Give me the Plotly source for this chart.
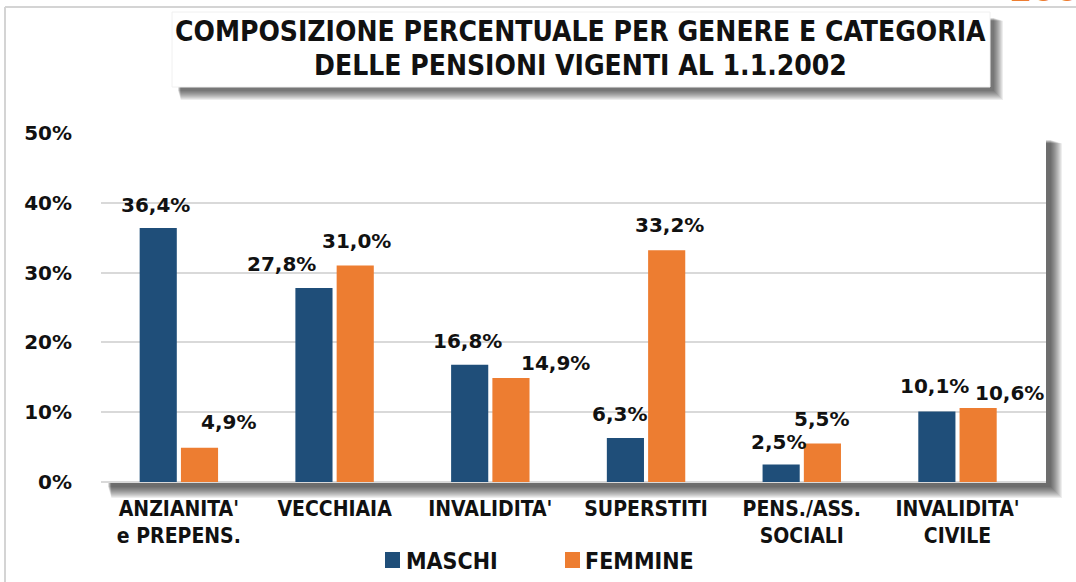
import plotly.graph_objects as go

# ---------------- data ----------------
categories = ["ANZIANITA'<br>e PREPENS.", "VECCHIAIA", "INVALIDITA'", "SUPERSTITI",
              "PENS./ASS.<br>SOCIALI", "INVALIDITA'<br>CIVILE"]
maschi = [36.4, 27.8, 16.8, 6.3, 2.5, 10.1]
femmine = [4.9, 31.0, 14.9, 33.2, 5.5, 10.6]
series_names = ["MASCHI", "FEMMINE"]
y_ticks = [0, 10, 20, 30, 40, 50]
y_tick_labels = ["0%", "10%", "20%", "30%", "40%", "50%"]
title_lines = ["COMPOSIZIONE PERCENTUALE PER GENERE E CATEGORIA", "DELLE PENSIONI VIGENTI AL 1.1.2002"]
corner_text = "100"

# ---------------- style ----------------
W, H = 1076, 582
L, R, T, B = 101, 1046, 133, 482
C_M = "#1f4e79"
C_F = "#ed7d31"
NARROW = "DejaVu Sans Condensed, Liberation Sans Narrow, Arial Narrow, sans-serif"
WIDE = "DejaVu Sans, Verdana, sans-serif"

# label pixel offsets (dx, gap above bar top)
m_off = [(0, 23), (-30, 24), (0, 24), (-4, 24), (0, 23), (0, 26)]
f_off = [(28, 26), (0, 25), (43, 15), (1, 25), (-2, 25), (30, 15)]

# manual legend placement (pixels): square left, text left
legend_pos = [(385, 404), (565, 583)]


def px(x):
    return (x - L) / (R - L)


def py(y):
    return (B - y) / (B - T)


fig = go.Figure()
fig.add_bar(name=series_names[0], x=categories, y=maschi, marker_color=C_M,
            marker_line_width=0, showlegend=False)
fig.add_bar(name=series_names[1], x=categories, y=femmine, marker_color=C_F,
            marker_line_width=0, showlegend=False)

shapes = []
# outer frame lines
shapes.append(dict(type="line", xref="paper", yref="paper", x0=px(5), x1=px(1080), y0=py(7), y1=py(7),
                   line=dict(color="#d4d4d4", width=2), layer="below"))
shapes.append(dict(type="line", xref="paper", yref="paper", x0=px(5), x1=px(5), y0=py(7), y1=py(590),
                   line=dict(color="#d4d4d4", width=2), layer="below"))


def shadow(x0, y0, x1, y1, off=6, n=12, alpha=0.055):
    out = []
    for k in range(n):
        out.append(dict(type="rect", xref="paper", yref="paper",
                        x0=px(x0 + off + k * 0.3), x1=px(x1 + off - 2 + k),
                        y0=py(y0 + off + k * 0.3), y1=py(y1 + off - 2 + k),
                        fillcolor=f"rgba(0,0,0,{alpha})", line_width=0, layer="below"))
    return out


# plot area shadow + white panel
shapes += shadow(L, T, R, B, off=7, n=12, alpha=0.065)
shapes.append(dict(type="rect", xref="paper", yref="paper", x0=px(L), x1=px(R), y0=py(T - 1), y1=py(B),
                   fillcolor="white", line_width=0, layer="below"))
# title box shadow + white box
shapes += shadow(172, 12, 990, 87, off=6, n=10, alpha=0.07)
shapes.append(dict(type="rect", xref="paper", yref="paper", x0=px(172), x1=px(990), y0=py(12), y1=py(87),
                   fillcolor="white", line=dict(color="#f0f0f0", width=1), layer="below"))

annotations = []
for i, t in enumerate(title_lines):
    annotations.append(dict(xref="paper", yref="paper", x=px(580), y=py(32 + i * 34), text=t,
                            showarrow=False, xanchor="center", yanchor="middle",
                            font=dict(family=NARROW, size=28, color="#111111", weight="bold")))

# partially visible orange text in the top-right corner (cut off in the reference too)
annotations.append(dict(xref="paper", yref="paper", x=px(1006), y=py(11), text=corner_text,
                        showarrow=False, xanchor="left", yanchor="bottom",
                        font=dict(family=WIDE, size=34, color=C_F, weight="bold")))


def lab(v):
    return f"{v:.1f}%".replace(".", ",")


for j, (vals, offs) in enumerate([(maschi, m_off), (femmine, f_off)]):
    for i, v in enumerate(vals):
        dx, gap = offs[i]
        annotations.append(dict(x=categories[i], y=v, xref="x", yref="y", text=lab(v), showarrow=False,
                                xanchor="center", yanchor="middle",
                                xshift=(-23 if j == 0 else 22) + dx, yshift=gap,
                                font=dict(family=WIDE, size=20, color="#111111", weight="bold")))

# manual legend
for (sx, tx), name, col in zip(legend_pos, series_names, [C_M, C_F]):
    shapes.append(dict(type="rect", xref="paper", yref="paper", x0=px(sx), x1=px(sx + 15),
                       y0=py(552), y1=py(568), fillcolor=col, line_width=0))
    annotations.append(dict(xref="paper", yref="paper", x=px(tx), y=py(561), text=name, showarrow=False,
                            xanchor="left", yanchor="middle",
                            font=dict(family=NARROW, size=23, color="#111111", weight="bold")))

fig.update_layout(
    width=W, height=H,
    margin=dict(l=L, r=W - R, t=T, b=H - B, pad=0, autoexpand=False),
    paper_bgcolor="white", plot_bgcolor="rgba(0,0,0,0)",
    barmode="group", bargap=0.47, bargroupgap=0.1,
    shapes=shapes, annotations=annotations,
    showlegend=False,
    font=dict(family=WIDE, color="#111111"),
)
fig.update_yaxes(range=[0, 50], tickvals=y_ticks, ticktext=y_tick_labels, showgrid=True,
                 gridcolor="#d9d9d9", gridwidth=1.5, zeroline=True, zerolinecolor="#d9d9d9", zerolinewidth=1.5,
                 ticks="", ticklabelstandoff=28, showline=False,
                 tickfont=dict(family=WIDE, size=20, color="#111111", weight="bold"))
fig.update_xaxes(ticks="", showline=False, ticklabelstandoff=12,
                 tickfont=dict(family=NARROW, size=21, color="#111111", weight="bold"))

fig.write_html("out.html", config={"displayModeBar": False},
               post_script="document.body.style.margin='0px';")
